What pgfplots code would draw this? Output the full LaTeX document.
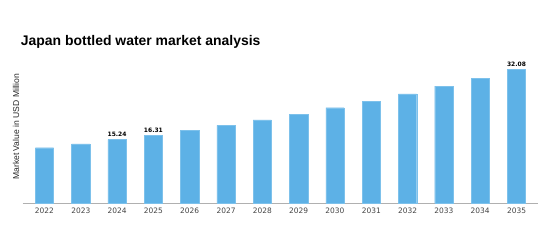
\documentclass[border=0pt]{standalone}
\usepackage{fontspec}
\setmainfont{Liberation Sans}
\newfontfamily\dejavu{DejaVu Sans}
\usepackage{pgfplots}
\pgfplotsset{compat=1.18}
\definecolor{barblue}{HTML}{5DB1E6}
\definecolor{axgray}{HTML}{B0B0B0}
\definecolor{ticktext}{HTML}{444444}
\begin{document}
\begin{tikzpicture}
\begin{axis}[
  name=ax,
  scale only axis,
  width=515.6bp, height=142bp,
  xmin=-0.6, xmax=13.6,
  ymin=0, ymax=34,
  axis x line*=bottom,
  axis y line*=left,
  y axis line style={draw=none},
  x axis line style={draw=axgray, line width=0.8pt},
  ytick=\empty,
  xtick={0,...,13},
  xticklabels={2022,2023,2024,2025,2026,2027,2028,2029,2030,2031,2032,2033,2034,2035},
  major tick length=0pt,
  xticklabel style={font=\dejavu\fontsize{7.5}{8}\selectfont, text=ticktext, yshift=-1bp},
  ybar, bar width=18.3bp, bar shift=0pt,
  clip=false,
  nodes near coords,
  every node near coord/.append style={font=\dejavu\bfseries\fontsize{6}{7}\selectfont, text=black, inner sep=2.5bp},
]
\addplot[fill=barblue, draw=barblue!80!white, line width=0.4pt, nodes near coords=] coordinates {
 (0,13.31) (1,14.24) (2,15.24) (3,16.31) (4,17.45) (5,18.68) (6,19.98)
 (7,21.38) (8,22.88) (9,24.48) (10,26.19) (11,28.03) (12,29.99) (13,32.08)};
\addplot[draw=none, fill=none, point meta=y,
  nodes near coords={\pgfmathprintnumber[fixed, precision=2, fixed zerofill, assume math mode=true]{\pgfplotspointmeta}}] coordinates {
 (2,15.24) (3,16.31) (13,32.08)};
\end{axis}
\path[use as bounding box] ([shift={(-22.7bp,-40.7bp)}]ax.south west) rectangle ([shift={(529.3bp,203.3bp)}]ax.south west);
\node[anchor=west, inner sep=0pt, font=\bfseries\fontsize{14}{16}\selectfont] at ([shift={(-2bp,161.6bp)}]ax.south west) {Japan bottled water market analysis};
\node[rotate=90, inner sep=0pt, font=\fontsize{8.6}{10}\selectfont, text=black!85] at ([shift={(-6.7bp,76.6bp)}]ax.south west) {Market Value in USD Million};
\end{tikzpicture}
\end{document}
